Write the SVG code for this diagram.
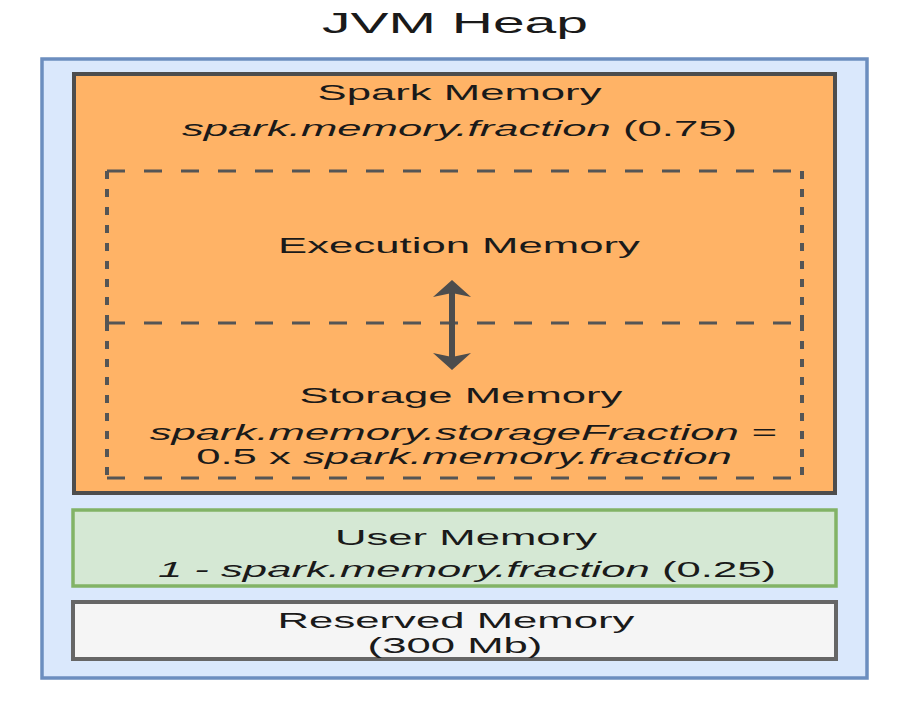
<svg xmlns="http://www.w3.org/2000/svg" width="899" height="705" viewBox="0 0 899 705">
<style>
  text { font-family: "Liberation Sans", Arial, sans-serif; fill: #1a1a1a; text-anchor: middle; }
  .t { font-size: 23px; }
  .title { font-size: 30px; }
  .i { font-style: italic; }
  .dash { stroke: #555555; fill: none; }
  .dh { stroke-width: 3; stroke-dasharray: 18 19; }
  .dv { stroke-width: 4; stroke-dasharray: 8 10; }
</style>
<defs>
  <marker id="head" viewBox="0 0 17 38" markerWidth="17" markerHeight="38" markerUnits="userSpaceOnUse" refX="4" refY="19" orient="auto-start-reverse">
    <path d="M0,0 L17,19 L0,38 L4,19 Z" fill="#4d4d4d"/>
  </marker>
</defs>
<rect width="899" height="705" fill="#ffffff"/>

<g id="title">
  <text class="title" transform="translate(455,33) scale(1.9,1)" x="0" y="0">JVM Heap</text>
</g>

<g id="jvm-heap">
  <rect x="42" y="59" width="825" height="619" fill="#dae8fc" stroke="#6c8ebf" stroke-width="3.5"/>
</g>

<g id="spark-memory">
  <rect x="74" y="74" width="761" height="419" fill="#ffb366" stroke="#4d4d4d" stroke-width="4"/>
  <text class="t" transform="translate(459.5,100) scale(1.9,1)" x="0" y="0">Spark Memory</text>
  <text class="t" transform="translate(459.5,136) scale(1.9,1)" x="0" y="0"><tspan class="i">spark.memory.fraction</tspan> (0.75)</text>
</g>

<g id="execution-memory">
  <line class="dash dh" x1="107" y1="171" x2="802" y2="171"/>
  <line class="dash dv" x1="107" y1="171" x2="107" y2="323"/>
  <line class="dash dv" x1="802" y1="171" x2="802" y2="323"/>
  <text class="t" transform="translate(459,253) scale(1.9,1)" x="0" y="0">Execution Memory</text>
</g>

<g id="storage-memory">
  <line class="dash dh" x1="107" y1="323" x2="802" y2="323"/>
  <line class="dash dv" x1="107" y1="323" x2="107" y2="478"/>
  <line class="dash dv" x1="802" y1="323" x2="802" y2="478"/>
  <line class="dash dh" x1="107" y1="478" x2="802" y2="478"/>
  <text class="t" transform="translate(461,403) scale(1.9,1)" x="0" y="0">Storage Memory</text>
  <text class="t i" transform="translate(463,440) scale(1.9,1)" x="0" y="0">spark.memory.storageFraction =</text>
  <text class="t" transform="translate(464,464) scale(1.9,1)" x="0" y="0">0.5 x <tspan class="i">spark.memory.fraction</tspan></text>
</g>

<g id="user-memory">
  <rect x="73" y="510" width="763" height="76" fill="#d5e8d4" stroke="#82b366" stroke-width="3.5"/>
  <text class="t" transform="translate(466,545) scale(1.9,1)" x="0" y="0">User Memory</text>
  <text class="t" transform="translate(467,577) scale(1.9,1)" x="0" y="0"><tspan class="i">1 - spark.memory.fraction</tspan> (0.25)</text>
</g>

<g id="reserved-memory">
  <rect x="73" y="602" width="763" height="57" fill="#f5f5f5" stroke="#666666" stroke-width="4"/>
  <text class="t" transform="translate(456,628) scale(1.9,1)" x="0" y="0">Reserved Memory</text>
  <text class="t" transform="translate(455,653) scale(1.9,1)" x="0" y="0">(300 Mb)</text>
</g>

<g id="connectors">
  <line x1="452" y1="293" x2="452" y2="357" stroke="#4d4d4d" stroke-width="6" marker-start="url(#head)" marker-end="url(#head)"/>
</g>
</svg>
